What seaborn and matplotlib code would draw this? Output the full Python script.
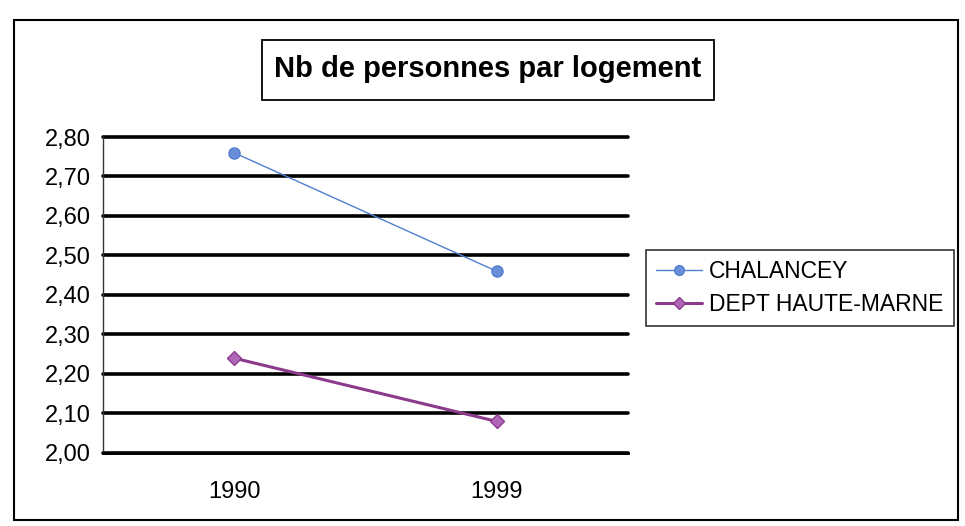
import pandas as pd
import matplotlib.pyplot as plt
import seaborn as sns
from matplotlib.patches import Rectangle
from matplotlib.lines import Line2D
from matplotlib.ticker import FuncFormatter, FixedLocator

annees = ["1990", "1999"]
chalancey = [2.76, 2.46]
haute_marne = [2.24, 2.08]
series = ["CHALANCEY", "DEPT HAUTE-MARNE"]
y_ticks = [2.0, 2.1, 2.2, 2.3, 2.4, 2.5, 2.6, 2.7, 2.8]
titre = "Nb de personnes par logement"

df = pd.DataFrame({
    "Annee": annees * 2,
    "Valeur": chalancey + haute_marne,
    "Serie": [series[0]] * 2 + [series[1]] * 2,
})

sns.set_style("white")
plt.rcParams["font.family"] = ["Liberation Sans", "DejaVu Sans"]
plt.rcParams["text.color"] = "black"
plt.rcParams["xtick.color"] = "black"
plt.rcParams["ytick.color"] = "black"

W, H = 965, 526
fig = plt.figure(figsize=(W / 100, H / 100), dpi=100)
ax = fig.add_axes([103 / W, 1 - 453 / H, 525 / W, 316 / H])

palette = {series[0]: "#4f7fd0", series[1]: "#8c3a8c"}
sns.lineplot(data=df, x="Annee", y="Valeur", hue="Serie", style="Serie",
             size="Serie", sizes={series[0]: 1.0, series[1]: 2.2},
             markers={series[0]: "o", series[1]: "D"}, dashes=False,
             palette=palette, markersize=8, ax=ax, legend=False)
for ln, mfc in zip(ax.lines, ["#6a8fd8", "#b066b8"]):
    ln.set_markerfacecolor(mfc)
    ln.set_markeredgecolor(ln.get_color())
    ln.set_markeredgewidth(1.0)
    ln.set_zorder(5)
ax.lines[1].set_markersize(7)

ax.set_xlim(-0.5, 1.5)
ax.set_ylim(2.0, 2.8)
ax.set_yticks(y_ticks)
ax.yaxis.set_major_formatter(FuncFormatter(lambda v, p: f"{v:.2f}".replace(".", ",")))
ax.grid(axis="y", color="black", linewidth=2.6)
ax.set_axisbelow(True)
for gl in ax.get_ygridlines():
    gl.set_clip_on(False)

# category boundaries as ticks, labels in between
ax.xaxis.set_major_locator(FixedLocator([-0.5, 0.5, 1.5]))
ax.xaxis.set_minor_locator(FixedLocator([0, 1]))
ax.set_xticklabels([], minor=False)
ax.set_xticklabels(annees, minor=True)
ax.tick_params(axis="x", which="major", direction="out", length=7, width=1, color="#333333")
ax.tick_params(axis="x", which="minor", length=0, pad=20, labelsize=17)
ax.tick_params(axis="y", direction="out", length=6, width=1, color="#333333", labelsize=17, pad=3)
ax.set_xlabel("")
ax.set_ylabel("")
for s in ["top", "right"]:
    ax.spines[s].set_visible(False)
ax.spines["left"].set_color("#333333")
ax.spines["left"].set_linewidth(1.0)
ax.spines["bottom"].set_color("black")
ax.spines["bottom"].set_linewidth(2.0)

# legend
handles = [
    Line2D([], [], color=palette[series[0]], lw=1.0, marker="o", markersize=7,
           markerfacecolor="#6a8fd8", markeredgecolor=palette[series[0]]),
    Line2D([], [], color=palette[series[1]], lw=2.2, marker="D", markersize=6,
           markerfacecolor="#b066b8", markeredgecolor=palette[series[1]]),
]
leg = ax.legend(handles, series, loc="center left", bbox_to_anchor=(646 / W, 1 - 288 / H),
                bbox_transform=fig.transFigure, frameon=True, fancybox=False,
                fontsize=16.5, handlelength=2.0, handletextpad=0.3, borderpad=0.45,
                labelspacing=0.4, borderaxespad=0)
leg.get_frame().set_edgecolor("black")
leg.get_frame().set_linewidth(1.2)

# outer border and title box
fig.patches.append(Rectangle((14 / W, 1 - 520 / H), 944 / W, 500 / H, transform=fig.transFigure,
                             fill=False, edgecolor="black", linewidth=1.5))
fig.patches.append(Rectangle((262 / W, 1 - 100 / H), 452 / W, 60 / H, transform=fig.transFigure,
                             fill=False, edgecolor="black", linewidth=1.3))
fig.text(488 / W, 1 - 69 / H, titre, ha="center", va="center", fontsize=21, fontweight="bold")

fig.savefig("out.png", dpi=100)
